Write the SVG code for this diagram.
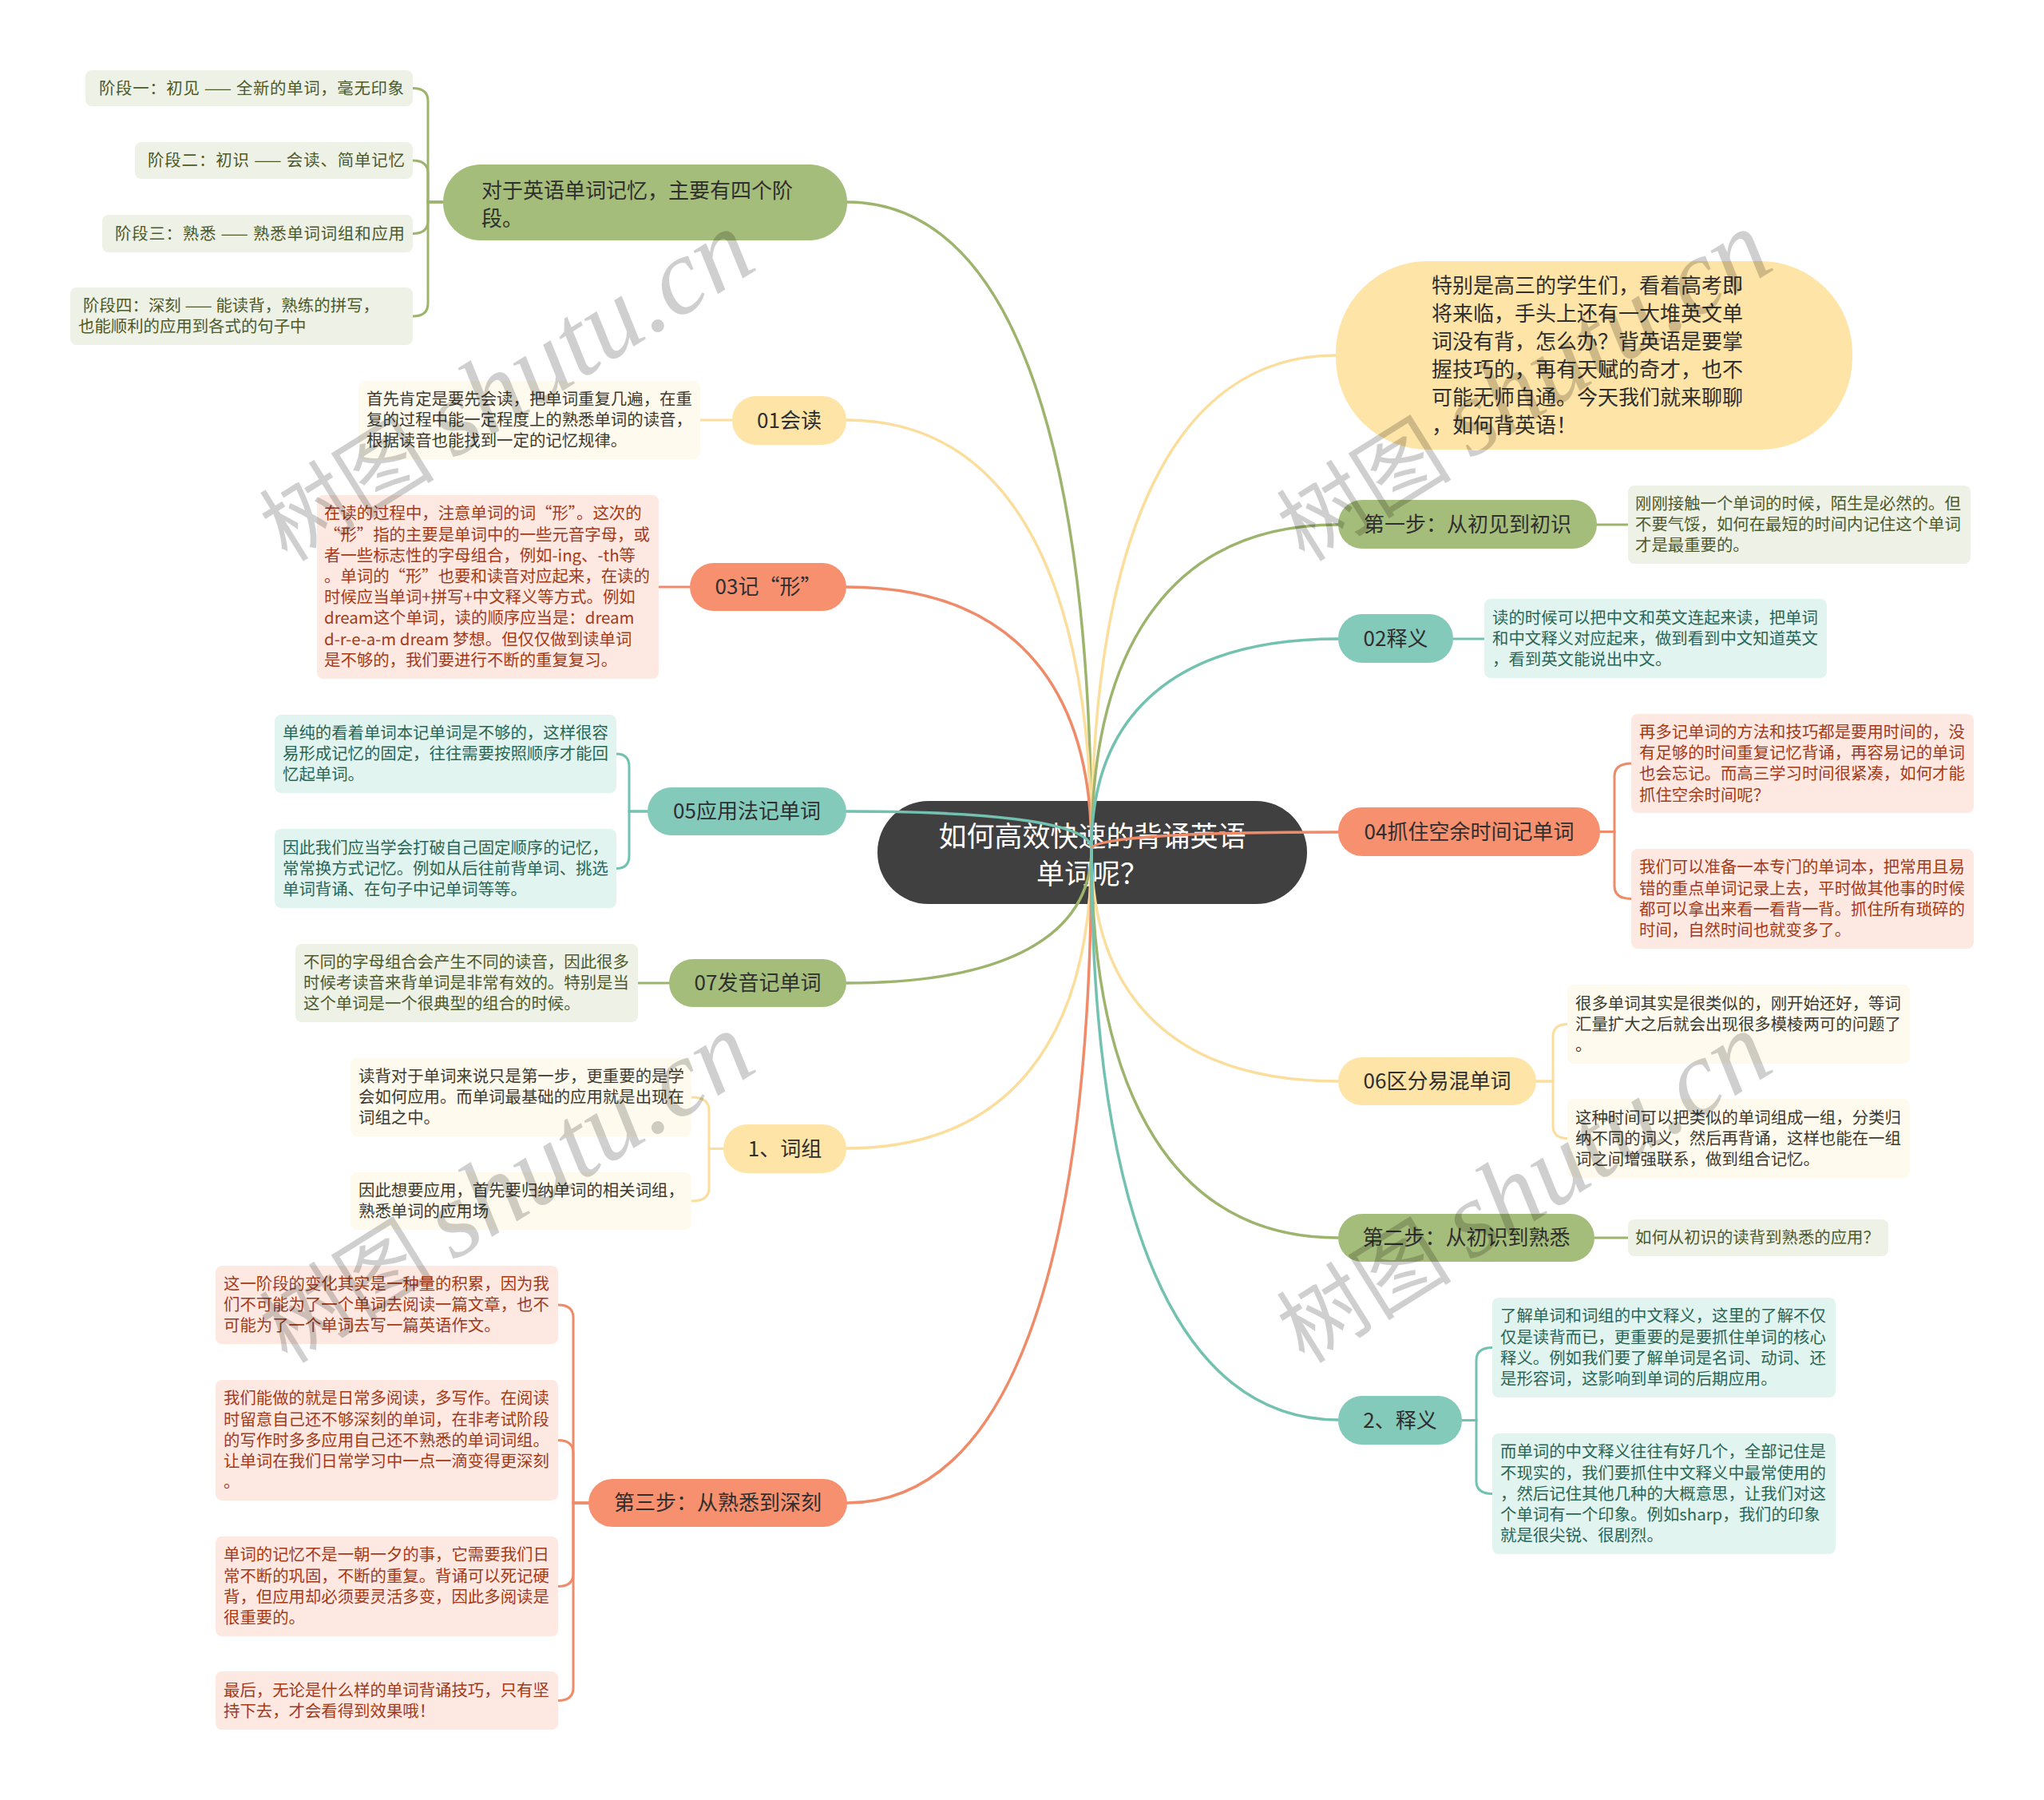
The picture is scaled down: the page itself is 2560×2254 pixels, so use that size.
<svg xmlns="http://www.w3.org/2000/svg" width="2560" height="2254" viewBox="0 0 2560 2254">
<style>
text{font-family:"Noto Sans CJK SC","Noto Sans",sans-serif}
.nt{font-size:26px;fill:#2f2f2f;text-anchor:middle}
.st{font-size:20.4px}
.ol{fill:#a5bd7a}.olb{fill:#eef1e5}.olt{fill:#4c5a2c}
.cr{fill:#fee4a6}.crb{fill:#fefaed}.crt{fill:#3c3a30}
.sa{fill:#f6906f}.sab{fill:#fde9e2}.sat{fill:#a33a1a}
.te{fill:#84cabb}.teb{fill:#e2f4ef}.tet{fill:#2a6656}
.c{fill:none;stroke-width:3.5;stroke-linecap:round}
.b{fill:none;stroke-width:3;stroke-linecap:round}
.lo{stroke:#9db46d}.lc{stroke:#fbdd9c}.ls{stroke:#ef8b69}.lt{stroke:#72c1b1}
.wm{fill:#000;fill-opacity:0.19}
.wc{font-size:110px}
.wl{font-family:"Liberation Serif",serif;font-style:italic;font-size:135px}
</style>
<rect width="2560" height="2254" fill="#ffffff"/>

<g id="root">
<rect x="1099" y="1003" width="538" height="129" rx="64" fill="#404040"/>
<text x="1368" y="1060" font-size="35" fill="#ffffff" text-anchor="middle">如何高效快速的背诵英语</text>
<text x="1368" y="1107" font-size="35" fill="#ffffff" text-anchor="middle">单词呢？</text>
</g>

<g id="connectors">
<path class="c lo" d="M1367 1063 C1367 536.5 1259.9 253 1061 253"/>
<path class="c lc" d="M1367 1063 C1367 714 1259.6 526 1060 526"/>
<path class="c ls" d="M1367 1063 C1367 849.8 1259.6 735 1060 735"/>
<path class="c lt" d="M1367 1063 C1367 1032.4 1259.6 1016 1060 1016"/>
<path class="c lo" d="M1367 1063 C1367 1172.2 1259.6 1231 1060 1231"/>
<path class="c lc" d="M1367 1063 C1367 1306.8 1259.6 1438 1060 1438"/>
<path class="c ls" d="M1367 1063 C1367 1595.4 1259.9 1882 1061 1882"/>
<path class="c lc" d="M1367 1063 C1367 661.3 1474.1 445 1673 445"/>
<path class="c lo" d="M1367 1063 C1367 799.1 1475.1 657 1676 657"/>
<path class="c lt" d="M1367 1063 C1367 892 1475.1 800 1676 800"/>
<path class="c ls" d="M1367 1063 C1367 1049.4 1475.1 1042 1676 1042"/>
<path class="c lc" d="M1367 1063 C1367 1252.2 1475.1 1354 1676 1354"/>
<path class="c lo" d="M1367 1063 C1367 1379.6 1475.1 1550 1676 1550"/>
<path class="c lt" d="M1367 1063 C1367 1527.8 1475.1 1778 1676 1778"/>

<path class="b lo" d="M555 253 H536 V126.5 Q536 110.5 517 110.5"/>
<path class="b lo" d="M555 253 H536 V217 Q536 201 517 201"/>
<path class="b lo" d="M555 253 H536 V276.5 Q536 292.5 517 292.5"/>
<path class="b lo" d="M555 253 H536 V380 Q536 396 517 396"/>
<path class="b lc" d="M917 526 H877"/>
<path class="b ls" d="M864 735 H825"/>
<path class="b lt" d="M811 1016 H788 V960 Q788 944 772 944"/>
<path class="b lt" d="M811 1016 H788 V1071.5 Q788 1087.5 772 1087.5"/>
<path class="b lo" d="M838 1231 H799"/>
<path class="b lc" d="M906 1438.5 H888 V1390 Q888 1374 866 1374"/>
<path class="b lc" d="M906 1438.5 H888 V1488 Q888 1504 866 1504"/>
<path class="b ls" d="M737 1882 H718 V1650 Q718 1634 699 1634"/>
<path class="b ls" d="M737 1882 H718 V1819.5 Q718 1803.5 699 1803.5"/>
<path class="b ls" d="M737 1882 H718 V1970.5 Q718 1986.5 699 1986.5"/>
<path class="b ls" d="M737 1882 H718 V2113.5 Q718 2129.5 699 2129.5"/>
<path class="b lo" d="M2000 657 H2039"/>
<path class="b lt" d="M1820 800 H1859"/>
<path class="b ls" d="M2004 1041.5 H2022 V972 Q2022 956 2043 956"/>
<path class="b ls" d="M2004 1041.5 H2022 V1109.5 Q2022 1125.5 2043 1125.5"/>
<path class="b lc" d="M1924 1354 H1945 V1298.5 Q1945 1282.5 1963 1282.5"/>
<path class="b lc" d="M1924 1354 H1945 V1409.5 Q1945 1425.5 1963 1425.5"/>
<path class="b lo" d="M1997 1550 H2039"/>
<path class="b lt" d="M1831 1778.5 H1849 V1703.5 Q1849 1687.5 1869 1687.5"/>
<path class="b lt" d="M1831 1778.5 H1849 V1854.5 Q1849 1870.5 1869 1870.5"/>
</g>

<!-- LEFT -->
<g id="nodeA">
<rect class="ol" x="555" y="206" width="506" height="95" rx="47"/>
<text font-size="26" fill="#2f2f2f"><tspan x="603" y="248">对于英语单词记忆，主要有四个阶</tspan><tspan x="603" y="283">段。</tspan></text>
</g>
<g id="nodeA1"><rect class="olb" x="107" y="88" width="410" height="45" rx="8"/><text class="st olt" x="124" y="117.5" textLength="382" lengthAdjust="spacing">阶段一：初见 —— 全新的单词，毫无印象</text></g>
<g id="nodeA2"><rect class="olb" x="169" y="178" width="348" height="46" rx="8"/><text class="st olt" x="185" y="208" textLength="322" lengthAdjust="spacing">阶段二：初识 —— 会读、简单记忆</text></g>
<g id="nodeA3"><rect class="olb" x="128" y="269" width="389" height="47" rx="8"/><text class="st olt" x="144" y="299.5" textLength="363" lengthAdjust="spacing">阶段三：熟悉 —— 熟悉单词词组和应用</text></g>
<g id="nodeA4"><rect class="olb" x="88" y="360" width="429" height="72" rx="8"/><text class="st olt"><tspan x="104" y="390" textLength="371" lengthAdjust="spacing">阶段四：深刻 —— 能读背，熟练的拼写，</tspan><tspan x="98" y="416">也能顺利的应用到各式的句子中</tspan></text></g>

<g id="nodeB"><rect class="cr" x="917" y="496" width="143" height="61" rx="30"/><text class="nt" x="988.5" y="536">01会读</text></g>
<g id="nodeB1"><rect class="crb" x="449" y="477" width="428" height="98" rx="8"/><text class="st crt"><tspan x="459" y="507">首先肯定是要先会读，把单词重复几遍，在重</tspan><tspan x="459" y="533">复的过程中能一定程度上的熟悉单词的读音，</tspan><tspan x="459" y="559">根据读音也能找到一定的记忆规律。</tspan></text></g>

<g id="nodeC"><rect class="sa" x="864" y="705" width="196" height="60" rx="30"/><text class="nt" x="962" y="744">03记“形”</text></g>
<g id="nodeC1"><rect class="sab" x="397" y="620" width="428" height="230" rx="8"/><text class="st sat"><tspan x="406" y="650">在读的过程中，注意单词的词“形”。这次的</tspan><tspan x="406" y="676.5">“形”指的主要是单词中的一些元音字母，或</tspan><tspan x="406" y="702.5">者一些标志性的字母组合，例如-ing、-th等</tspan><tspan x="406" y="729">。单词的“形”也要和读音对应起来，在读的</tspan><tspan x="406" y="755">时候应当单词+拼写+中文释义等方式。例如</tspan><tspan x="406" y="781">dream这个单词，读的顺序应当是：dream</tspan><tspan x="406" y="807.5">d-r-e-a-m dream 梦想。但仅仅做到读单词</tspan><tspan x="406" y="833.5">是不够的，我们要进行不断的重复复习。</tspan></text></g>

<g id="nodeD"><rect class="te" x="811" y="986" width="249" height="60" rx="30"/><text class="nt" x="935.5" y="1025">05应用法记单词</text></g>
<g id="nodeD1"><rect class="teb" x="344" y="895" width="428" height="98" rx="8"/><text class="st tet"><tspan x="354" y="925">单纯的看着单词本记单词是不够的，这样很容</tspan><tspan x="354" y="951">易形成记忆的固定，往往需要按照顺序才能回</tspan><tspan x="354" y="977">忆起单词。</tspan></text></g>
<g id="nodeD2"><rect class="teb" x="344" y="1038" width="428" height="99" rx="8"/><text class="st tet"><tspan x="354" y="1068.5">因此我们应当学会打破自己固定顺序的记忆，</tspan><tspan x="354" y="1094.5">常常换方式记忆。例如从后往前背单词、挑选</tspan><tspan x="354" y="1120.5">单词背诵、在句子中记单词等等。</tspan></text></g>

<g id="nodeE"><rect class="ol" x="838" y="1201" width="222" height="60" rx="30"/><text class="nt" x="949" y="1240">07发音记单词</text></g>
<g id="nodeE1"><rect class="olb" x="370" y="1182" width="429" height="98" rx="8"/><text class="st olt"><tspan x="380" y="1212">不同的字母组合会产生不同的读音，因此很多</tspan><tspan x="380" y="1238">时候考读音来背单词是非常有效的。特别是当</tspan><tspan x="380" y="1264">这个单词是一个很典型的组合的时候。</tspan></text></g>

<g id="nodeF"><rect class="cr" x="906" y="1408" width="154" height="61" rx="30"/><text class="nt" x="983" y="1447.5">1、词组</text></g>
<g id="nodeF1"><rect class="crb" x="439" y="1325" width="427" height="98" rx="8"/><text class="st crt"><tspan x="449" y="1355">读背对于单词来说只是第一步，更重要的是学</tspan><tspan x="449" y="1381">会如何应用。而单词最基础的应用就是出现在</tspan><tspan x="449" y="1407">词组之中。</tspan></text></g>
<g id="nodeF2"><rect class="crb" x="439" y="1468" width="427" height="72" rx="8"/><text class="st crt"><tspan x="449" y="1498">因此想要应用，首先要归纳单词的相关词组，</tspan><tspan x="449" y="1524">熟悉单词的应用场</tspan></text></g>

<g id="nodeG"><rect class="sa" x="737" y="1852" width="324" height="60" rx="30"/><text class="nt" x="899" y="1891">第三步：从熟悉到深刻</text></g>
<g id="nodeG1"><rect class="sab" x="270" y="1585" width="429" height="98" rx="8"/><text class="st sat"><tspan x="280" y="1615">这一阶段的变化其实是一种量的积累，因为我</tspan><tspan x="280" y="1641">们不可能为了一个单词去阅读一篇文章，也不</tspan><tspan x="280" y="1667">可能为了一个单词去写一篇英语作文。</tspan></text></g>
<g id="nodeG2"><rect class="sab" x="270" y="1728" width="429" height="151" rx="8"/><text class="st sat"><tspan x="280" y="1758">我们能做的就是日常多阅读，多写作。在阅读</tspan><tspan x="280" y="1784.5">时留意自己还不够深刻的单词，在非考试阶段</tspan><tspan x="280" y="1810.5">的写作时多多应用自己还不熟悉的单词词组。</tspan><tspan x="280" y="1836.5">让单词在我们日常学习中一点一滴变得更深刻</tspan><tspan x="280" y="1863">。</tspan></text></g>
<g id="nodeG3"><rect class="sab" x="270" y="1924" width="429" height="125" rx="8"/><text class="st sat"><tspan x="280" y="1954">单词的记忆不是一朝一夕的事，它需要我们日</tspan><tspan x="280" y="1980.5">常不断的巩固，不断的重复。背诵可以死记硬</tspan><tspan x="280" y="2006.5">背，但应用却必须要灵活多变，因此多阅读是</tspan><tspan x="280" y="2033">很重要的。</tspan></text></g>
<g id="nodeG4"><rect class="sab" x="270" y="2093" width="429" height="73" rx="8"/><text class="st sat"><tspan x="280" y="2123.5">最后，无论是什么样的单词背诵技巧，只有坚</tspan><tspan x="280" y="2149.5">持下去，才会看得到效果哦！</tspan></text></g>

<!-- RIGHT -->
<g id="nodeH"><rect class="cr" x="1673" y="327" width="647" height="236" rx="115"/><text font-size="26" fill="#2f2f2f"><tspan x="1793" y="366.5">特别是高三的学生们，看着高考即</tspan><tspan x="1793" y="401.5">将来临，手头上还有一大堆英文单</tspan><tspan x="1793" y="436.5">词没有背，怎么办？背英语是要掌</tspan><tspan x="1793" y="471.5">握技巧的，再有天赋的奇才，也不</tspan><tspan x="1793" y="506.5">可能无师自通。今天我们就来聊聊</tspan><tspan x="1793" y="541.5">，如何背英语！</tspan></text></g>

<g id="nodeI"><rect class="ol" x="1676" y="626" width="324" height="61" rx="30"/><text class="nt" x="1838" y="666">第一步：从初见到初识</text></g>
<g id="nodeI1"><rect class="olb" x="2039" y="608" width="429" height="98" rx="8"/><text class="st olt"><tspan x="2048" y="638">刚刚接触一个单词的时候，陌生是必然的。但</tspan><tspan x="2048" y="664">不要气馁，如何在最短的时间内记住这个单词</tspan><tspan x="2048" y="690">才是最重要的。</tspan></text></g>

<g id="nodeJ"><rect class="te" x="1676" y="769" width="144" height="61" rx="30"/><text class="nt" x="1748" y="809">02释义</text></g>
<g id="nodeJ1"><rect class="teb" x="1859" y="750" width="429" height="99" rx="8"/><text class="st tet"><tspan x="1869" y="780.5">读的时候可以把中文和英文连起来读，把单词</tspan><tspan x="1869" y="806.5">和中文释义对应起来，做到看到中文知道英文</tspan><tspan x="1869" y="832.5">，看到英文能说出中文。</tspan></text></g>

<g id="nodeK"><rect class="sa" x="1676" y="1011" width="328" height="61" rx="30"/><text class="nt" x="1840" y="1051">04抓住空余时间记单词</text></g>
<g id="nodeK1"><rect class="sab" x="2043" y="894" width="429" height="124" rx="8"/><text class="st sat"><tspan x="2053" y="924">再多记单词的方法和技巧都是要用时间的，没</tspan><tspan x="2053" y="950">有足够的时间重复记忆背诵，再容易记的单词</tspan><tspan x="2053" y="976">也会忘记。而高三学习时间很紧凑，如何才能</tspan><tspan x="2053" y="1002.5">抓住空余时间呢？</tspan></text></g>
<g id="nodeK2"><rect class="sab" x="2043" y="1063" width="429" height="125" rx="8"/><text class="st sat"><tspan x="2053" y="1093">我们可以准备一本专门的单词本，把常用且易</tspan><tspan x="2053" y="1119.5">错的重点单词记录上去，平时做其他事的时候</tspan><tspan x="2053" y="1145.5">都可以拿出来看一看背一背。抓住所有琐碎的</tspan><tspan x="2053" y="1172">时间，自然时间也就变多了。</tspan></text></g>

<g id="nodeL"><rect class="cr" x="1676" y="1324" width="248" height="60" rx="30"/><text class="nt" x="1800" y="1363">06区分易混单词</text></g>
<g id="nodeL1"><rect class="crb" x="1963" y="1233" width="429" height="99" rx="8"/><text class="st crt"><tspan x="1973" y="1263.5">很多单词其实是很类似的，刚开始还好，等词</tspan><tspan x="1973" y="1289.5">汇量扩大之后就会出现很多模棱两可的问题了</tspan><tspan x="1973" y="1315.5">。</tspan></text></g>
<g id="nodeL2"><rect class="crb" x="1963" y="1376" width="429" height="99" rx="8"/><text class="st crt"><tspan x="1973" y="1406.5">这种时间可以把类似的单词组成一组，分类归</tspan><tspan x="1973" y="1432.5">纳不同的词义，然后再背诵，这样也能在一组</tspan><tspan x="1973" y="1458.5">词之间增强联系，做到组合记忆。</tspan></text></g>

<g id="nodeM"><rect class="ol" x="1676" y="1520" width="321" height="60" rx="30"/><text class="nt" x="1836.5" y="1559">第二步：从初识到熟悉</text></g>
<g id="nodeM1"><rect class="olb" x="2039" y="1527" width="326" height="46" rx="8"/><text class="st olt" x="2048" y="1557">如何从初识的读背到熟悉的应用？</text></g>

<g id="nodeN"><rect class="te" x="1676" y="1748" width="155" height="61" rx="30"/><text class="nt" x="1753.5" y="1788">2、释义</text></g>
<g id="nodeN1"><rect class="teb" x="1869" y="1625" width="430" height="125" rx="8"/><text class="st tet"><tspan x="1879" y="1655">了解单词和词组的中文释义，这里的了解不仅</tspan><tspan x="1879" y="1681.5">仅是读背而已，更重要的是要抓住单词的核心</tspan><tspan x="1879" y="1707.5">释义。例如我们要了解单词是名词、动词、还</tspan><tspan x="1879" y="1734">是形容词，这影响到单词的后期应用。</tspan></text></g>
<g id="nodeN2"><rect class="teb" x="1869" y="1795" width="430" height="151" rx="8"/><text class="st tet"><tspan x="1879" y="1825">而单词的中文释义往往有好几个，全部记住是</tspan><tspan x="1879" y="1851.5">不现实的，我们要抓住中文释义中最常使用的</tspan><tspan x="1879" y="1877.5">，然后记住其他几种的大概意思，让我们对这</tspan><tspan x="1879" y="1903.5">个单词有一个印象。例如sharp，我们的印象</tspan><tspan x="1879" y="1930">就是很尖锐、很剧烈。</tspan></text></g>

<g id="watermarks" class="wm">
<text transform="rotate(-32 360 705)" x="360" y="705"><tspan class="wc">树图 </tspan><tspan class="wl">shutu.cn</tspan></text>
<text transform="rotate(-32 1634 705)" x="1634" y="705"><tspan class="wc">树图 </tspan><tspan class="wl">shutu.cn</tspan></text>
<text transform="rotate(-32 360 1709)" x="360" y="1709"><tspan class="wc">树图 </tspan><tspan class="wl">shutu.cn</tspan></text>
<text transform="rotate(-32 1634 1709)" x="1634" y="1709"><tspan class="wc">树图 </tspan><tspan class="wl">shutu.cn</tspan></text>
</g>
</svg>
